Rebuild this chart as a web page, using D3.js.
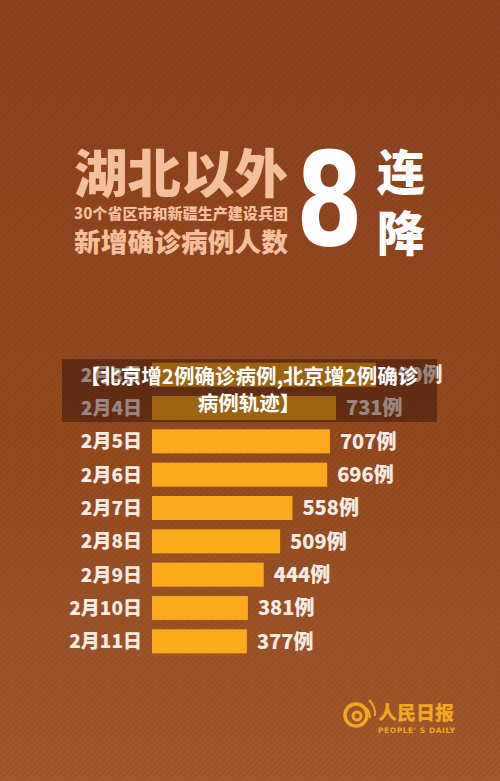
<!DOCTYPE html>
<html><head><meta charset="utf-8">
<script src="https://cdn.jsdelivr.net/npm/d3@7"></script>
<style>html,body{margin:0;padding:0;background:#8f4522;}svg{display:block;}</style>
</head><body>
<svg id="c" width="500" height="781"></svg>
<script>
const dates = ["2月3日","2月4日","2月5日","2月6日","2月7日","2月8日","2月9日","2月10日","2月11日"];
const values = [890,731,707,696,558,509,444,381,377];
const valueSuffix = "例";
const titleMain = "湖北以外";
const titleSub = "30个省区市和新疆生产建设兵团";
const titleSub2 = "新增确诊病例人数";
const bigNum = "8";
const bigChars = ["连","降"];
const overlayLines = ["【北京增2例确诊病例,北京增2例确诊","病例轨迹】"];

const svg = d3.select("#c");
const W = 500, H = 781;
const font = "'Noto Sans CJK SC','Noto Sans',sans-serif";

const defs = svg.append("defs");
const g = defs.append("linearGradient").attr("id","bg").attr("x1",0).attr("y1",0).attr("x2",0).attr("y2",1);
g.append("stop").attr("offset","0%").attr("stop-color","#8c421f");
g.append("stop").attr("offset","55%").attr("stop-color","#94491f");
g.append("stop").attr("offset","100%").attr("stop-color","#a35a2c");
const pat = defs.append("pattern").attr("id","tex").attr("width",6).attr("height",6)
  .attr("patternUnits","userSpaceOnUse");
pat.append("path").attr("d","M0,6 L6,0").attr("stroke","rgba(0,0,0,0.08)").attr("stroke-width",1.2);

svg.append("rect").attr("width",W).attr("height",H).attr("fill","url(#bg)");
svg.append("rect").attr("width",W).attr("height",H).attr("fill","url(#tex)");

// Title
svg.append("text").attr("x",74).attr("y",193).attr("font-family",font).attr("font-weight",900)
  .attr("font-size",52).attr("fill","#f4bf9c").attr("textLength",214).attr("lengthAdjust","spacingAndGlyphs").text(titleMain);
svg.append("text").attr("x",74).attr("y",219).attr("font-family",font).attr("font-weight",900)
  .attr("font-size",15).attr("fill","#f4bf9c").attr("textLength",214).attr("lengthAdjust","spacingAndGlyphs").text(titleSub);
svg.append("text").attr("x",74).attr("y",252).attr("font-family",font).attr("font-weight",900)
  .attr("font-size",26).attr("fill","#f4bf9c").attr("textLength",214).attr("lengthAdjust","spacingAndGlyphs").text(titleSub2);
svg.append("text").attr("font-family","'DejaVu Sans',sans-serif").attr("font-weight",700)
  .attr("font-size",130).attr("fill","#ffffff")
  .attr("transform","translate(296,245) scale(0.74,1)").text(bigNum);
svg.append("text").attr("x",377).attr("y",190).attr("font-family",font).attr("font-weight",900)
  .attr("font-size",48).attr("fill","#ffffff").text(bigChars[0]);
svg.append("text").attr("x",377).attr("y",251).attr("font-family",font).attr("font-weight",900)
  .attr("font-size",48).attr("fill","#ffffff").text(bigChars[1]);

// Bars
const y = d3.scaleBand().domain(dates).range([358,658]).paddingInner(0.28).paddingOuter(0.14);
const x = d3.scaleLinear().domain([0,890]).range([152,376]);

const rows = svg.append("g").selectAll("g").data(dates).join("g");
rows.append("rect").attr("x",x(0)).attr("y",d=>y(d)).attr("height",y.bandwidth())
  .attr("width",(d,i)=>x(values[i])-x(0)).attr("fill","#fbaa1c");
rows.append("text").attr("x",142).attr("y",d=>y(d)+y.bandwidth()/2).attr("dy","0.36em")
  .attr("text-anchor","end").attr("font-family",font).attr("font-weight",900).attr("font-size",19)
  .attr("fill","#f7ece4").text(d=>d);
rows.append("text").attr("x",(d,i)=>x(values[i])+10).attr("y",d=>y(d)+y.bandwidth()/2).attr("dy","0.36em")
  .attr("font-family",font).attr("font-weight",900).attr("font-size",20)
  .attr("fill","#f7ece4").text((d,i)=>values[i]+valueSuffix);

// Overlay
svg.append("rect").attr("x",62).attr("y",359).attr("width",375).attr("height",63).attr("fill","rgba(40,15,5,0.45)");
overlayLines.forEach((t,i)=>{
  svg.append("text").attr("x",249).attr("y",384+i*27).attr("text-anchor","middle")
    .attr("font-family",font).attr("font-weight",700).attr("font-size",20.5).attr("fill","#ffffff").text(t);
});

// Logo
const lg = svg.append("g").attr("fill","none").attr("stroke","#f2a623");
lg.append("circle").attr("cx",356).attr("cy",715).attr("r",11).attr("stroke-width",3.5);
lg.append("circle").attr("cx",357).attr("cy",716).attr("r",4).attr("stroke-width",3);
lg.append("path").attr("d","M366,708 A14,14 0 0 1 370,718").attr("stroke-width",2);
lg.append("path").attr("d","M369,700 A20,20 0 0 1 375,716").attr("stroke-width",2);
svg.append("text").attr("x",378).attr("y",720).attr("font-family",font).attr("font-weight",900)
  .attr("font-size",19).attr("fill","#f2a623").text("人民日报");
svg.append("text").attr("x",378).attr("y",733).attr("font-family","'DejaVu Sans',sans-serif").attr("font-weight",700)
  .attr("font-size",7.5).attr("fill","#f2a623").attr("textLength",77).text("PEOPLE' S DAILY");
</script>
</body></html>
